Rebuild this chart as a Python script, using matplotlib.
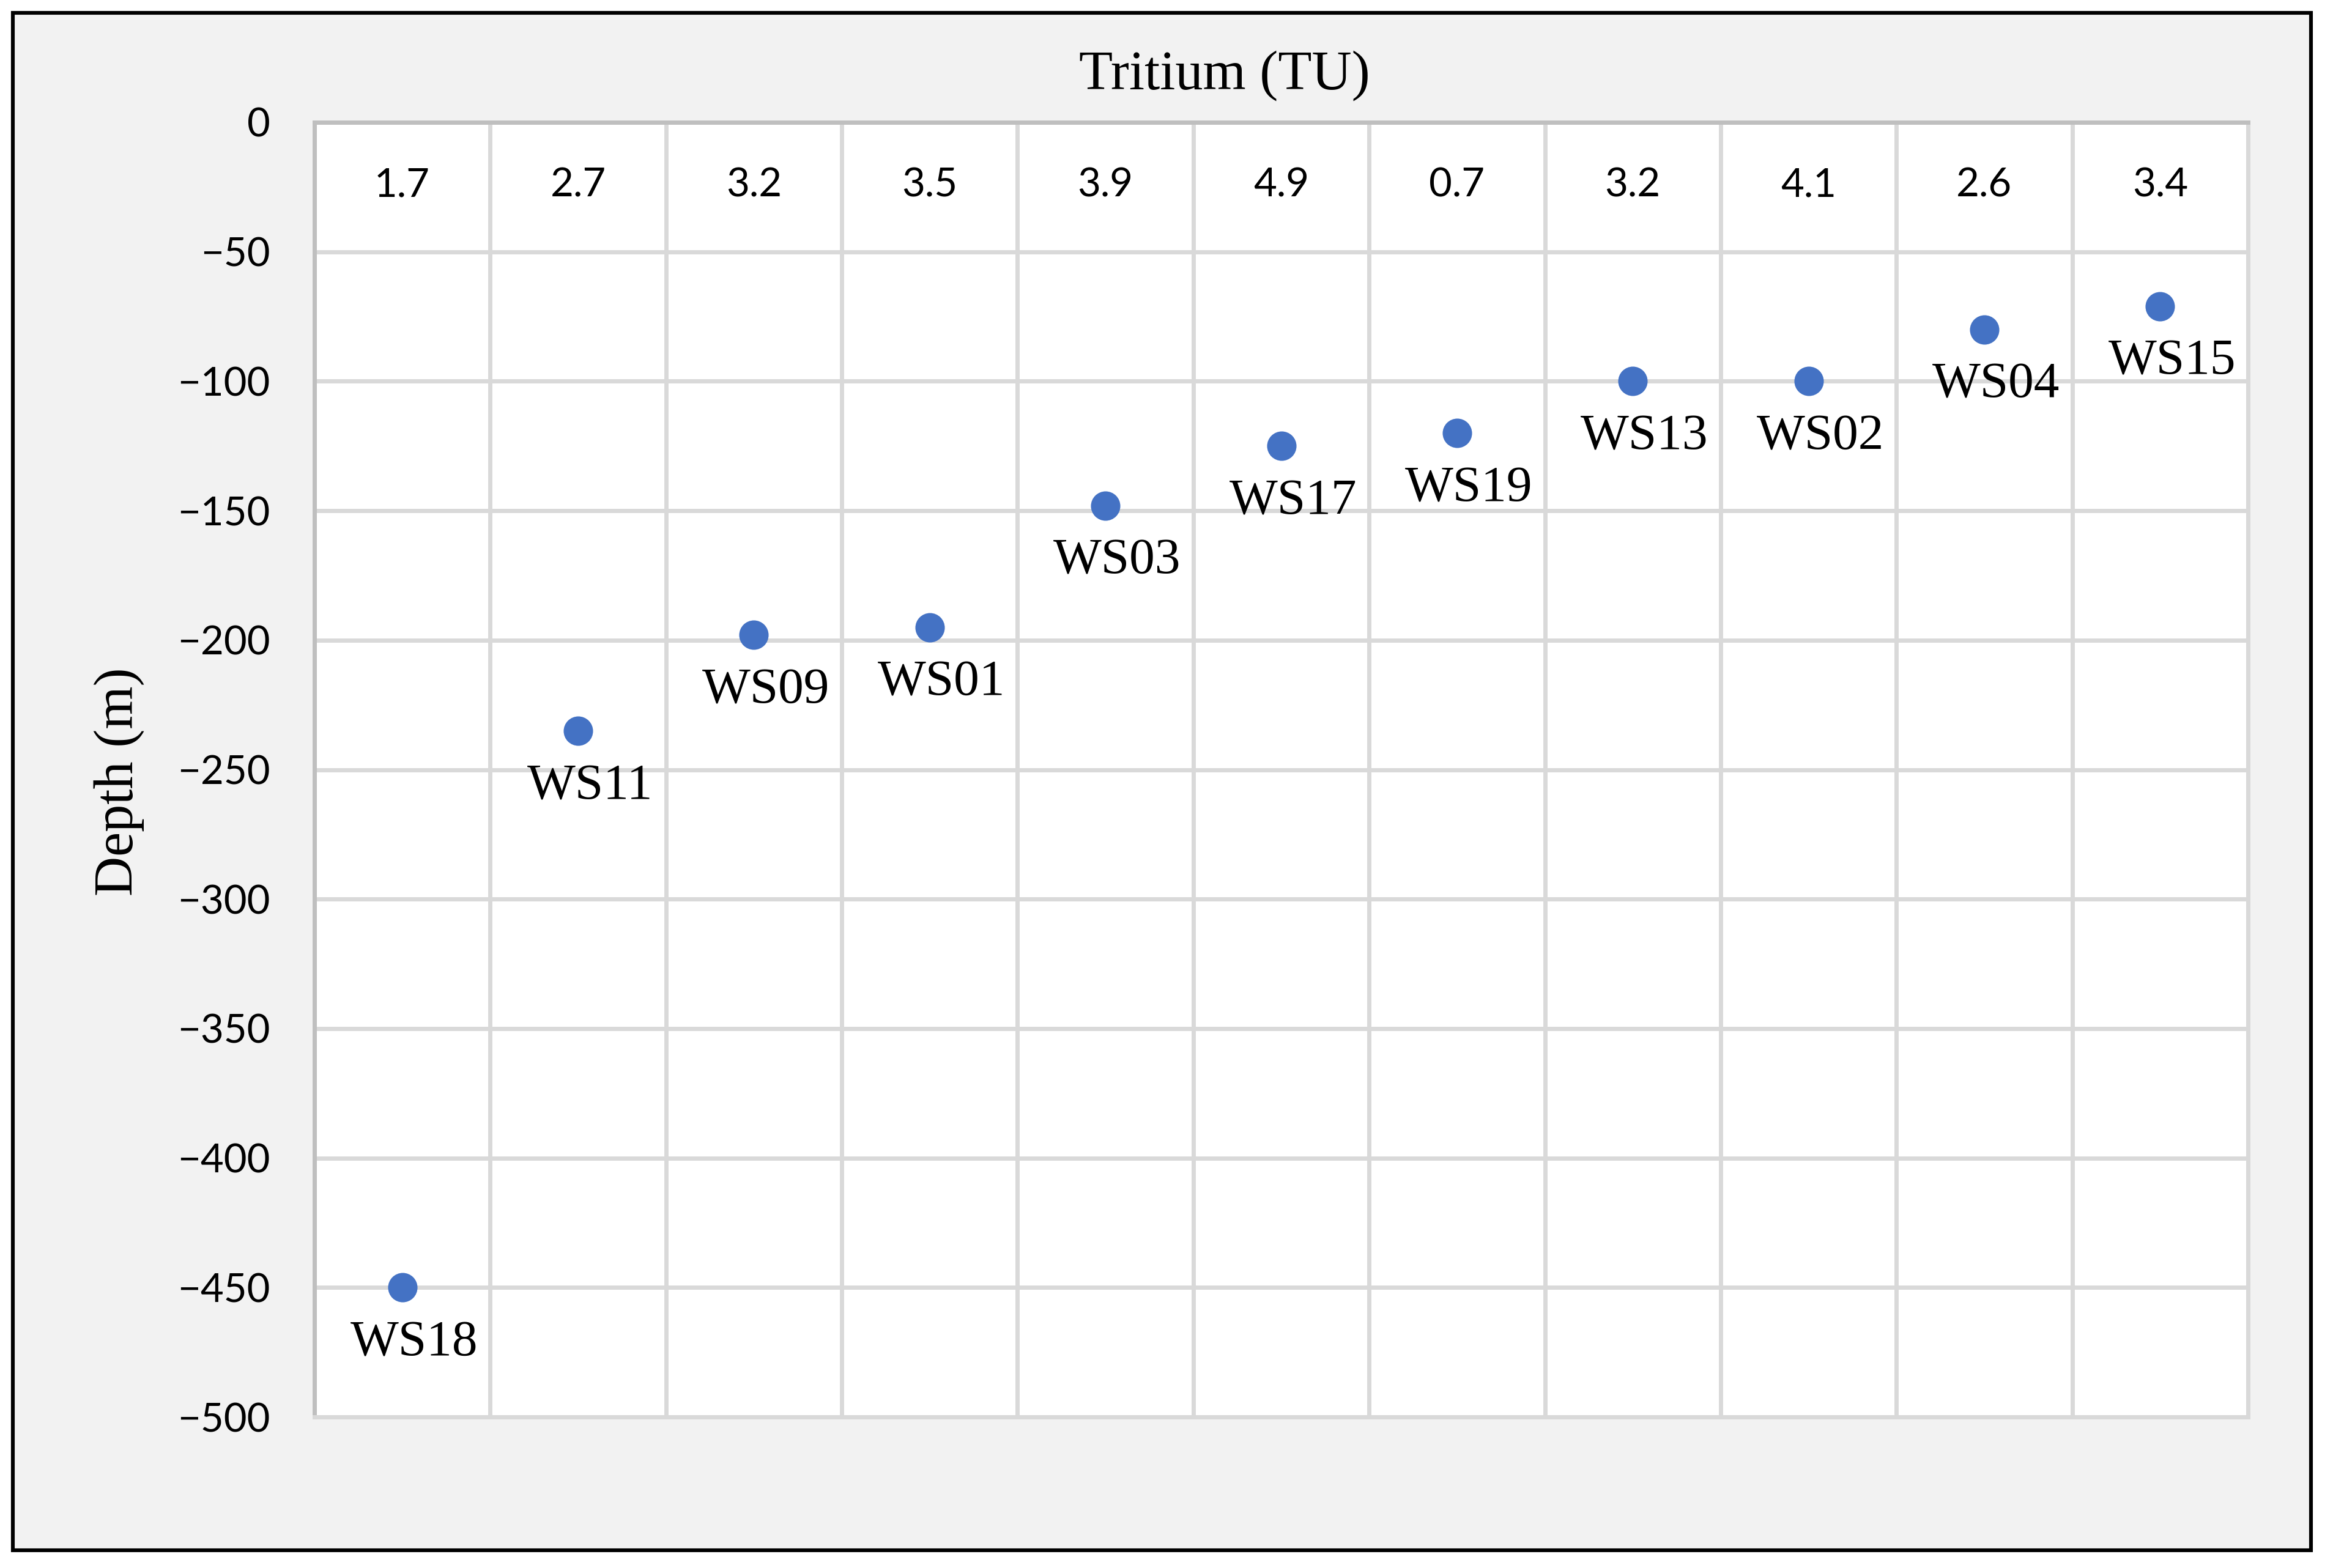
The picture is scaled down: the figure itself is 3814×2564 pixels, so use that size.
import matplotlib
matplotlib.use("Agg")
import matplotlib.pyplot as plt
from matplotlib.patches import Rectangle
import numpy as np

# ---- data ----
wells = ["WS18", "WS11", "WS09", "WS01", "WS03", "WS17", "WS19", "WS13", "WS02", "WS04", "WS15"]
tritium = ["1.7", "2.7", "3.2", "3.5", "3.9", "4.9", "0.7", "3.2", "4.1", "2.6", "3.4"]
depth = [-450, -235, -198, -195, -148, -125, -120, -100, -100, -80, -71]
y_ticks = [0, -50, -100, -150, -200, -250, -300, -350, -400, -450, -500]

DPI = 200
W, H = 3814, 2564
fig = plt.figure(figsize=(W / DPI, H / DPI), dpi=DPI)
fig.patch.set_facecolor("white")

# outer grey panel with black border
fig.add_artist(Rectangle((21 / W, 1 - 2535 / H), (3778 - 21) / W, (2535 - 21) / H,
                         transform=fig.transFigure, facecolor="#f2f2f2",
                         edgecolor="black", linewidth=2.2, zorder=0))

ax = fig.add_axes([514 / W, 1 - 2317 / H, (3675 - 514) / W, (2317 - 200) / H])
ax.set_facecolor("white")

n = len(wells)
x = np.arange(n) + 0.5
ax.set_xlim(0, n)
ax.set_ylim(-500, 0)

grid_c = "#d9d9d9"
axis_c = "#bfbfbf"
lw = 2.5

# gridlines
ax.set_xticks(np.arange(n + 1))
ax.set_xticklabels([])
ax.set_yticks(y_ticks)
ax.grid(True, color=grid_c, linewidth=lw, zorder=1)
ax.set_axisbelow(True)
ax.tick_params(axis="both", length=0)
ax.tick_params(axis="x", labelbottom=False)
ax.tick_params(axis="y", pad=26, labelsize=23.5, labelcolor="black")
for lab in ax.get_yticklabels():
    lab.set_fontfamily(["Lato", "DejaVu Sans"])

for s in ["bottom", "right"]:
    ax.spines[s].set_color(grid_c)
    ax.spines[s].set_linewidth(lw)
for s in ["top", "left"]:
    ax.spines[s].set_color(axis_c)
    ax.spines[s].set_linewidth(lw)

# tritium values in the top row
for xi, t in zip(x, tritium):
    ax.text(xi, 1 - 103 / (2317 - 200), t, transform=ax.get_xaxis_transform(),
            ha="center", va="center", fontsize=23.5, family=["Lato", "DejaVu Sans"],
            color="black", zorder=3)

# points
ax.plot(x, depth, linestyle="none", marker="o", markersize=17.3,
        color="#4472C4", markeredgewidth=0, zorder=4)

# point labels
for xi, d, w in zip(x, depth, wells):
    ax.annotate(w, (xi, d), xytext=(7, -40), textcoords="offset points",
                ha="center", va="baseline", fontsize=30,
                family=["Liberation Serif", "DejaVu Serif"], color="black", zorder=5)

# titles
fig.text(2002 / W, 1 - 146 / H, "Tritium (TU)", ha="center", va="baseline",
         fontsize=32.5, family=["Liberation Serif", "DejaVu Serif"], color="black")
fig.text(195 / W, 1 - 1278 / H, "Depth (m)", ha="center", va="center", rotation=90,
         fontsize=32.5, family=["Liberation Serif", "DejaVu Serif"], color="black")

fig.savefig("out.png", dpi=DPI, facecolor=fig.get_facecolor())
